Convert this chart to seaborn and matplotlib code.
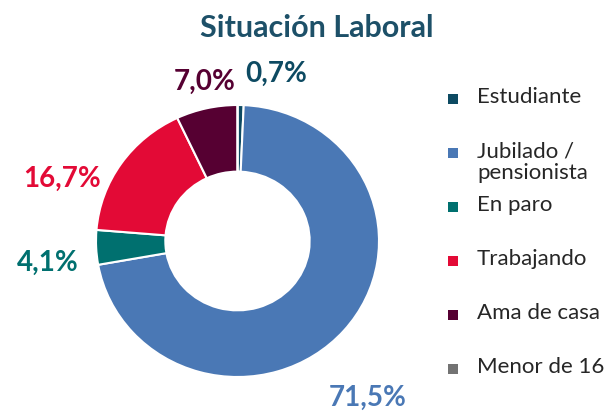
import matplotlib
matplotlib.use("Agg")
import matplotlib.pyplot as plt
import seaborn as sns
from matplotlib.patches import Rectangle

sns.set_theme(style="white")
plt.rcParams['font.family'] = ['Lato', 'DejaVu Sans']

categories = ["Estudiante", "Jubilado /\npensionista", "En paro", "Trabajando", "Ama de casa", "Menor de 16"]
values = [0.7, 71.5, 4.1, 16.7, 7.0, 0.0]
labels = ["0,7%", "71,5%", "4,1%", "16,7%", "7,0%", ""]
colors = ["#0D4A62", "#4A78B5", "#00706F", "#E30A36", "#560032", "#737373"]
label_pos = [(0.27, 1.23), (0.92, -1.15), (-1.34, -0.16), (-1.24, 0.46), (-0.23, 1.17), None]

W, H = 612, 413
fig = plt.figure(figsize=(W / 100, H / 100), dpi=100)
cx, cy, rx, ry = 237.5, 241, 141.5, 136
ax = fig.add_axes([(cx - rx) / W, (H - cy - ry) / H, 2 * rx / W, 2 * ry / H])
ax.pie(values, colors=colors, startangle=90, counterclock=False, radius=1,
       wedgeprops=dict(width=0.49, edgecolor="white", linewidth=1.5))
ax.set_xlim(-1, 1)
ax.set_ylim(-1, 1)
ax.set_aspect("auto")
ax.axis("off")

for lab, pos, col in zip(labels, label_pos, colors):
    if pos is None or not lab:
        continue
    ax.text(pos[0], pos[1], lab, color=col, fontsize=20, fontweight="bold",
            ha="center", va="center", clip_on=False)

fig.text(317 / W, 1 - 28 / H, "Situación Laboral", ha="center", va="center",
         fontsize=22, fontweight="bold", color="#1D5068")

# legend drawn as rows
row_y = [99, 153, 207, 261, 315, 369]
for cat, col, y in zip(categories, colors, row_y):
    fig.patches.append(Rectangle((448 / W, 1 - (y + 5) / H), 10 / W, 10 / H,
                                 transform=fig.transFigure, facecolor=col,
                                 edgecolor="none"))
    fig.text(477 / W, 1 - (y - 12) / H, cat, ha="left", va="top", fontsize=16,
             color="#262626", linespacing=1.1)

fig.savefig("out.png", dpi=100)
